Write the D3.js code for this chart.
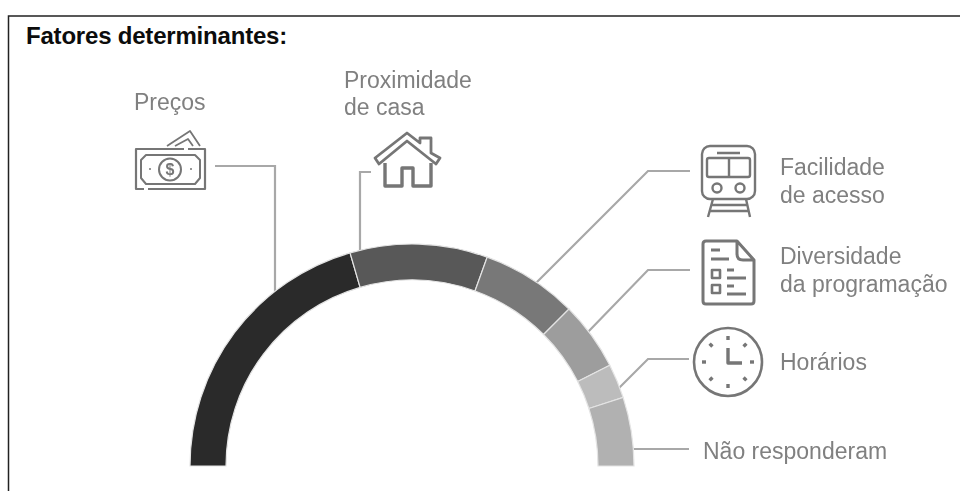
<!DOCTYPE html>
<html>
<head>
<meta charset="utf-8">
<script src="https://cdn.jsdelivr.net/npm/d3@7"></script>
<style>
  html, body { margin: 0; padding: 0; background: #fff; }
  svg { display: block; }
  text { font-family: "Liberation Sans", sans-serif; }
</style>
</head>
<body>
<svg id="chart" width="960" height="491"></svg>
<script>
// ----------------------------
// Data
// ----------------------------
const factors = ["Preços", "Proximidade de casa", "Facilidade de acesso",
    "Diversidade da programação", "Horários", "Não responderam"];
const shares = [41, 20, 14, 10, 5, 10];
const greys = ["#2b2b2b", "#595959", "#787878", "#9d9d9d", "#bcbcbc", "#b1b1b1"];

const svg = d3.select("#chart");
const lineGrey = "#a8a8a8";
const iconGrey = "#767676";
const textGrey = "#808080";

// Soften everything a little, the reference is a resampled scan
const blur = svg.append("defs").append("filter").attr("id", "soft");
blur.append("feGaussianBlur").attr("stdDeviation", 0.5);

// ----------------------------
// Frame and title
// ----------------------------
svg.append("path")
    .attr("d", "M8.5,491V16H960")
    .attr("fill", "none")
    .attr("stroke", "#222")
    .attr("stroke-width", 1.5);

svg.append("text")
    .attr("x", 26)
    .attr("y", 44)
    .attr("font-size", 24)
    .attr("font-weight", "bold")
    .attr("letter-spacing", -0.2)
    .attr("fill", "#0c0c0c")
    .text("Fatores determinantes:");

const g = svg.append("g").attr("filter", "url(#soft)");

// ----------------------------
// Half ring
// ----------------------------
const cx = 412, cy = 466;

const pie = d3.pie()
    .sort(null)
    .startAngle(-Math.PI / 2)
    .endAngle(Math.PI / 2);

const arc = d3.arc()
    .innerRadius(186)
    .outerRadius(222);

// Leader lines go under the ring so they meet its edge cleanly
const leaders = [
    [[215, 166], [275, 166], [275, 295]],
    [[371, 172], [360, 172], [360, 254]],
    [[690, 171], [648, 171], [535, 284]],
    [[690, 270], [648, 270], [587, 333]],
    [[689, 359], [648, 359], [618, 389]],
    [[689, 449], [630, 449]]
];

g.selectAll(".leader")
    .data(leaders)
    .join("polyline")
    .attr("class", "leader")
    .attr("points", d => d.join(" "))
    .attr("fill", "none")
    .attr("stroke", lineGrey)
    .attr("stroke-width", 2.2);

g.append("g")
    .attr("transform", `translate(${cx},${cy})`)
    .selectAll("path")
    .data(pie(shares))
    .join("path")
    .attr("d", arc)
    .attr("fill", (d, i) => greys[i])
    .attr("stroke", "#e4e4e4")
    .attr("stroke-width", 1.2)
    .append("title")
    .text((d, i) => factors[i]);

// ----------------------------
// Labels
// ----------------------------
const labels = [
    {x: 134, y: [110], lines: ["Preços"]},
    {x: 344, y: [88, 115], lines: ["Proximidade", "de casa"]},
    {x: 780, y: [175, 203], lines: ["Facilidade", "de acesso"]},
    {x: 780, y: [264, 292], lines: ["Diversidade", "da programação"]},
    {x: 780, y: [370], lines: ["Horários"]},
    {x: 703, y: [459], lines: ["Não responderam"]}
];

labels.forEach(l => {
    l.lines.forEach((line, i) => {
        g.append("text")
            .attr("x", l.x)
            .attr("y", l.y[i])
            .attr("font-size", 23)
            .attr("fill", textGrey)
            .text(line);
    });
});

// ----------------------------
// Icons
// ----------------------------
function outline(parent, width) {
    return parent.append("path")
        .attr("fill", "none")
        .attr("stroke", iconGrey)
        .attr("stroke-width", width)
        .attr("stroke-linejoin", "round");
}

function moneyIcon() {
    const i = g.append("g");
    outline(i, 2.2).attr("d", "M184,149H136V189H144M148,189H205V149H188");
    outline(i, 2).attr("d", "M146,155H195L200,160V178L195,184H146L141,178V160Z");
    outline(i, 1.8).attr("d", "M167,146L190,131L200,146M175,146L188,139L193,146");
    i.append("circle").attr("cx", 170).attr("cy", 169.5).attr("r", 11)
        .attr("fill", "none").attr("stroke", iconGrey).attr("stroke-width", 2);
    i.append("text").attr("x", 170).attr("y", 175).attr("text-anchor", "middle")
        .attr("font-size", 16).attr("font-weight", "bold").attr("fill", iconGrey).text("$");
    [150, 191].forEach(x => {
        i.append("circle").attr("cx", x).attr("cy", 169).attr("r", 1).attr("fill", iconGrey);
    });
}

function houseIcon() {
    const i = g.append("g");
    outline(i, 2.8).attr("d", "M375,158L407,133L420,143V138H431V153L440,158L436,164L407,141L379,164Z");
    outline(i, 3.4).attr("d", "M385,163V186H402V168H413V186H431V163");
}

function trainIcon() {
    const i = g.append("g");
    i.append("rect").attr("x", 702).attr("y", 146).attr("width", 53).attr("height", 53).attr("rx", 8)
        .attr("fill", "none").attr("stroke", iconGrey).attr("stroke-width", 2.4);
    i.append("rect").attr("x", 707).attr("y", 158).attr("width", 43).attr("height", 19).attr("rx", 2)
        .attr("fill", "none").attr("stroke", iconGrey).attr("stroke-width", 2.4);
    outline(i, 2.4).attr("d", "M729,158V177M717,153H740M713,199L708,217M746,199L750,217M711,205H748M709,211H749");
    [717, 740].forEach(x => {
        i.append("circle").attr("cx", x).attr("cy", 188).attr("r", 4.5)
            .attr("fill", "none").attr("stroke", iconGrey).attr("stroke-width", 2.4);
    });
}

function docIcon() {
    const i = g.append("g");
    outline(i, 3).attr("d", "M737,241H706Q703,241 703,244V301Q703,304 706,304H751Q754,304 754,301V260ZM737,241V254Q737,260 743,260H754");
    outline(i, 3).attr("d", "M711,250H720M711,259H729M727,270H734M727,278H746M727,286H734M727,294H746");
    outline(i, 2.6).attr("d", "M712,270H720V278H712ZM712,285H720V293H712Z");
}

function clockIcon() {
    const i = g.append("g");
    const c = [728, 362];
    i.append("circle").attr("cx", c[0]).attr("cy", c[1]).attr("r", 34)
        .attr("fill", "none").attr("stroke", iconGrey).attr("stroke-width", 2.6);
    d3.range(8).forEach(k => {
        const a = k * Math.PI / 4;
        i.append("line")
            .attr("x1", c[0] + 22 * Math.sin(a)).attr("y1", c[1] - 22 * Math.cos(a))
            .attr("x2", c[0] + 26 * Math.sin(a)).attr("y2", c[1] - 26 * Math.cos(a))
            .attr("stroke", iconGrey).attr("stroke-width", 3.4);
    });
    outline(i, 3.4).attr("d", "M728,348V363H742");
}

moneyIcon();
houseIcon();
trainIcon();
docIcon();
clockIcon();
</script>
</body>
</html>
